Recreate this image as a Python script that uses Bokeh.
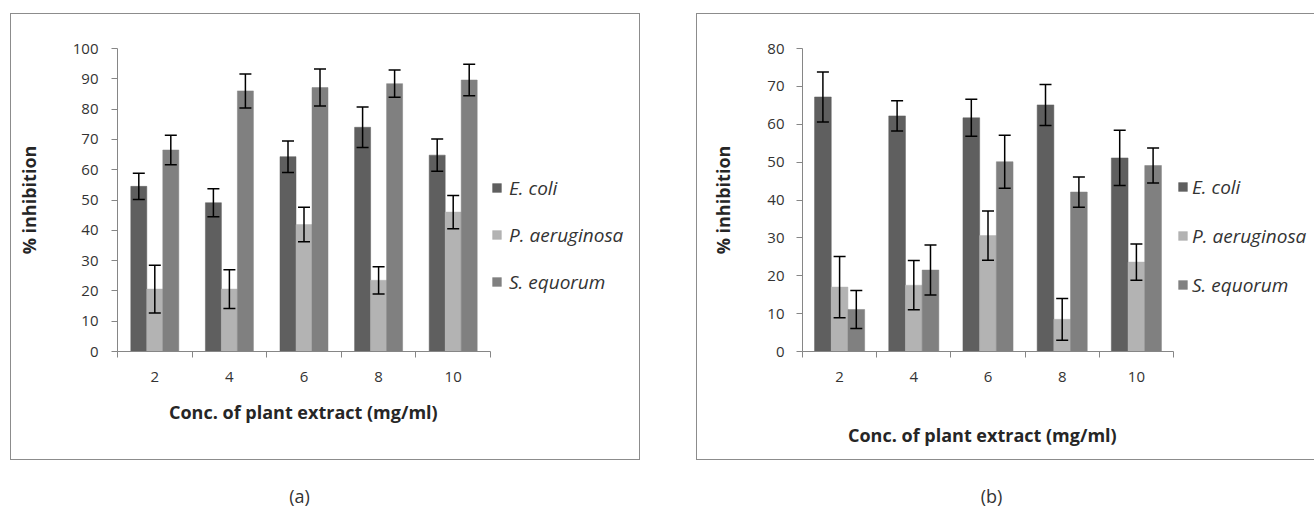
from bokeh.plotting import figure
from bokeh.models import (ColumnDataSource, Whisker, TeeHead, FixedTicker,
                          Range1d, Spacer, Legend, LegendItem, Title)
from bokeh.layouts import row, column
from bokeh.core.properties import value
from bokeh.embed import file_html
from bokeh.resources import INLINE

# ---------------- data ----------------
conc = [2, 4, 6, 8, 10]
series = ["E. coli", "P. aeruginosa", "S. equorum"]
colors = ["#5f5f5f", "#b3b3b3", "#808080"]

a_ecoli = [54.5, 49.1, 64.3, 74.0, 64.8]
a_ecoli_err = [4.3, 4.6, 5.2, 6.7, 5.3]
a_paer = [20.6, 20.6, 41.9, 23.5, 46.0]
a_paer_err = [7.9, 6.4, 5.7, 4.5, 5.5]
a_sequ = [66.5, 86.0, 87.1, 88.4, 89.6]
a_sequ_err = [4.9, 5.6, 6.1, 4.5, 5.2]

b_ecoli = [67.2, 62.2, 61.7, 65.1, 51.1]
b_ecoli_err = [6.6, 4.0, 4.9, 5.4, 7.3]
b_paer = [17.0, 17.5, 30.6, 8.5, 23.6]
b_paer_err = [8.1, 6.5, 6.5, 5.5, 4.8]
b_sequ = [11.1, 21.5, 50.1, 42.1, 49.1]
b_sequ_err = [5.0, 6.6, 7.0, 4.0, 4.6]

y_ticks_a = list(range(0, 101, 10))
y_ticks_b = list(range(0, 81, 10))
x_title = "Conc. of plant extract (mg/ml)"
y_title = "% inhibition"
captions = ["(a)", "(b)"]

FONT = "Open Sans"
AXIS_COLOR = "#868686"
TEXT_COLOR = "#333333"
BOX_COLOR = "#8c8c8c"
HEIGHT = 445


def panel(vals, errs, yticks, width, mb_left, mb_top, mb_bottom, axis_px,
          bar_w, title_offset, title_standoff, ylab_standoff, ytick_standoff,
          leg_loc, leg_spacing, leg_standoff, extra_gap):
    # plot frame runs to the right edge so that the legend sits inside it;
    # the x axis itself covers the categories only (bounds)
    frame_w = width - mb_left
    x_lo = conc[0] - 1
    x_hi = conc[-1] + 1
    x_end = x_lo + (x_hi - x_lo) * frame_w / axis_px
    p = figure(width=width, height=HEIGHT, x_range=Range1d(x_lo, x_end),
               y_range=Range1d(yticks[0], yticks[-1]),
               output_backend="svg", toolbar_location=None,
               min_border_left=mb_left, min_border_right=0,
               min_border_top=mb_top, min_border_bottom=mb_bottom,
               outline_line_color=None, background_fill_color="white",
               border_fill_color="white",
               styles={"outline": "1.5px solid " + BOX_COLOR})
    p.grid.visible = False

    offsets = [-bar_w, 0.0, bar_w]
    items = []
    for name, v, e, c, off in zip(series, vals, errs, colors, offsets):
        src = ColumnDataSource(dict(
            x=[xx + off for xx in conc], top=v,
            upper=[a + b for a, b in zip(v, e)],
            lower=[a - b for a, b in zip(v, e)]))
        r = p.vbar(x="x", top="top", bottom=0, width=bar_w, source=src,
                   fill_color=c, line_color=c, line_width=0.5)
        items.append(LegendItem(label=name, renderers=[r]))
        w = Whisker(base="x", upper="upper", lower="lower", source=src,
                    line_color="black", line_width=1.5, level="overlay",
                    upper_head=TeeHead(size=12, line_color="black", line_width=1.5),
                    lower_head=TeeHead(size=12, line_color="black", line_width=1.5))
        p.add_layout(w)

    # x axis: labels at category centres, ticks at category boundaries
    xa = p.xaxis[0]
    xa.bounds = (x_lo, x_hi)
    xa.ticker = FixedTicker(ticks=conc, minor_ticks=[c - 1 for c in conc] + [x_hi])
    xa.major_tick_out = 0
    xa.major_tick_in = 0
    xa.minor_tick_out = 6
    xa.minor_tick_in = 0
    xa.minor_tick_line_color = AXIS_COLOR
    xa.axis_line_color = AXIS_COLOR
    xa.major_label_text_font = FONT
    xa.major_label_text_font_size = "15px"
    xa.major_label_text_color = TEXT_COLOR
    xa.major_label_standoff = 14
    if extra_gap:
        # blank axis label only reserves vertical room above the title
        xa.axis_label = " "
        xa.axis_label_standoff = 0
        xa.axis_label_text_font = FONT
        xa.axis_label_text_font_size = "18px"

    p.add_layout(Title(text=x_title, align="left", offset=title_offset,
                       standoff=title_standoff, text_font=FONT,
                       text_font_style="bold", text_font_size="18px",
                       text_color="#262626"), "below")

    ya = p.yaxis[0]
    ya.ticker = FixedTicker(ticks=yticks, minor_ticks=[])
    ya.major_tick_out = 6
    ya.major_tick_in = 0
    ya.major_tick_line_color = AXIS_COLOR
    ya.axis_line_color = AXIS_COLOR
    ya.major_label_text_font = FONT
    ya.major_label_text_font_size = "15px"
    ya.major_label_text_color = TEXT_COLOR
    ya.major_label_standoff = ytick_standoff
    ya.axis_label = y_title
    ya.axis_label_text_font = FONT
    ya.axis_label_text_font_style = "bold"
    ya.axis_label_text_font_size = "18px"
    ya.axis_label_text_color = "#262626"
    ya.axis_label_standoff = ylab_standoff

    lg = Legend(items=items, location=leg_loc,
                border_line_color=None, background_fill_alpha=0,
                padding=0, margin=0, spacing=leg_spacing,
                glyph_width=11, glyph_height=11, label_height=26,
                label_standoff=leg_standoff,
                label_text_font=FONT, label_text_font_style="italic",
                label_text_font_size="19px", label_text_color=TEXT_COLOR)
    p.add_layout(lg)
    return p


def caption_fig(text):
    c = figure(width=60, height=40, x_range=Range1d(0, 1), y_range=Range1d(0, 1),
               output_backend="svg", toolbar_location=None,
               x_axis_location=None, y_axis_location=None,
               min_border=0, outline_line_color=None)
    c.grid.visible = False
    c.text(x=[0.5], y=[0.5], text=[text], text_align="center", text_baseline="middle",
           text_font=value(FONT), text_font_size="18px", text_color=TEXT_COLOR)
    return c


pA = panel([a_ecoli, a_paer, a_sequ], [a_ecoli_err, a_paer_err, a_sequ_err], y_ticks_a,
           width=628, mb_left=106, mb_top=34, mb_bottom=108, axis_px=373,
           bar_w=0.429, title_offset=51.5, title_standoff=27,
           ylab_standoff=29, ytick_standoff=13,
           leg_loc=(374, 56.4), leg_spacing=21, leg_standoff=7, extra_gap=False)

pB = panel([b_ecoli, b_paer, b_sequ], [b_ecoli_err, b_paer_err, b_sequ_err], y_ticks_b,
           width=617, mb_left=105, mb_top=34, mb_bottom=108, axis_px=371,
           bar_w=0.45, title_offset=45.5, title_standoff=18,
           ylab_standoff=29, ytick_standoff=12,
           leg_loc=(375, 53.4), leg_spacing=23, leg_standoff=4, extra_gap=True)

capA = caption_fig(captions[0])
capB = caption_fig(captions[1])

top = row(Spacer(width=11, height=HEIGHT), pA, Spacer(width=58, height=HEIGHT), pB)
bottom = row(Spacer(width=269, height=40), capA, Spacer(width=632, height=40), capB)
layout = column(Spacer(width=10, height=14), top, Spacer(width=10, height=16), bottom)

open("out.html", "w").write(file_html(layout, INLINE))
